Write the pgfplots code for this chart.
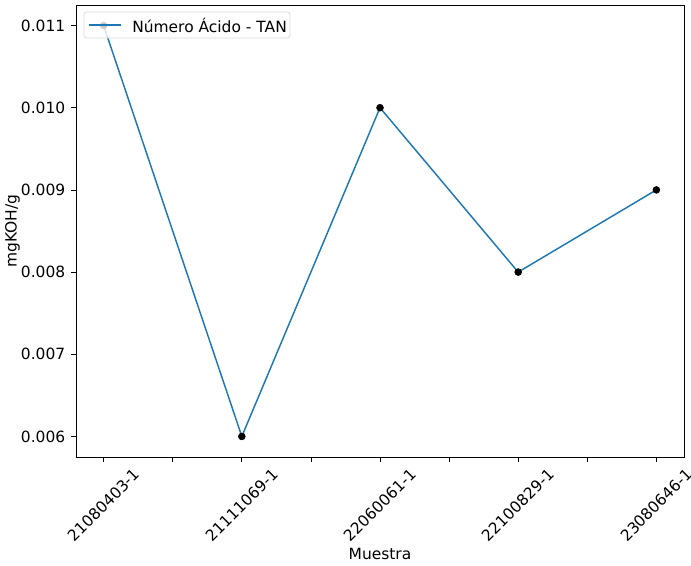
\documentclass[border=0pt]{standalone}
\usepackage{pgfplots}
\pgfplotsset{compat=1.18}
\usepackage{fontspec}
\setmainfont{DejaVu Sans}
\definecolor{c0}{HTML}{1F77B4}
\begin{document}
\fontsize{11.6}{13}\selectfont
\begin{tikzpicture}
\begin{axis}[
  name=ax,
  scale only axis,
  width=456pt, height=339pt,
  xmin=-0.2, xmax=4.2,
  ymin=0.00575, ymax=0.01125,
  scaled y ticks=false,
  /pgf/number format/assume math mode=true,
  xtick={0,1,2,3,4},
  minor xtick={0.5,1.5,2.5,3.5},
  xticklabels={\rotatebox{45}{21080403-1},\rotatebox{45}{21111069-1},\rotatebox{45}{22060061-1},\rotatebox{45}{22100829-1},\rotatebox{45}{23080646-1}},
  ytick={0.006,0.007,0.008,0.009,0.010,0.011},
  yticklabels={0.006,0.007,0.008,0.009,0.010,0.011},
  tick align=outside,
  major tick length=4pt, minor tick length=4pt,
  tick style={black, line width=0.6pt},
  xtick pos=bottom, ytick pos=left,
  axis line style={line width=0.6pt},
  xlabel={Muestra}, ylabel={mgKOH/g},
  xlabel style={yshift=4pt},
  ylabel style={yshift=-7pt},
  tick label style={font=\fontsize{11.6}{13}\selectfont},
  label style={font=\fontsize{11.6}{13}\selectfont},
]
\addplot[c0, line width=1.1pt, mark=none] coordinates {(0,0.011) (1,0.006) (2,0.010) (3,0.008) (4,0.009)};
\addplot[only marks, mark=*, mark size=2.6pt, black] coordinates {(0,0.011) (1,0.006) (2,0.010) (3,0.008) (4,0.009)};
\end{axis}
% legend
\coordinate (lnw) at ([shift={(6pt,-5.25pt)}]ax.north west);
\coordinate (lse) at ([shift={(160.5pt,-24.75pt)}]ax.north west);
\begin{scope}
\fill[white, fill opacity=0.8, rounded corners=2pt] (lnw) rectangle (lse);
\end{scope}
\begin{scope}
\draw[black!15, rounded corners=2pt, line width=0.6pt] (lnw) rectangle (lse);
\end{scope}
\begin{scope}
\draw[color=c0, line width=1.6pt] ([shift={(3.75pt,-9.75pt)}]lnw) -- ([shift={(27.75pt,-9.75pt)}]lnw);
\end{scope}
\node[anchor=west, inner sep=0pt, font=\fontsize{11.6}{13}\selectfont] at ([shift={(36pt,-9.75pt)}]lnw) {Número Ácido - TAN};
\pgfresetboundingbox
\path ([shift={(-57pt,-81.75pt)}]ax.south west) rectangle ([shift={(5.25pt,3.75pt)}]ax.north east);
\end{tikzpicture}
\end{document}
